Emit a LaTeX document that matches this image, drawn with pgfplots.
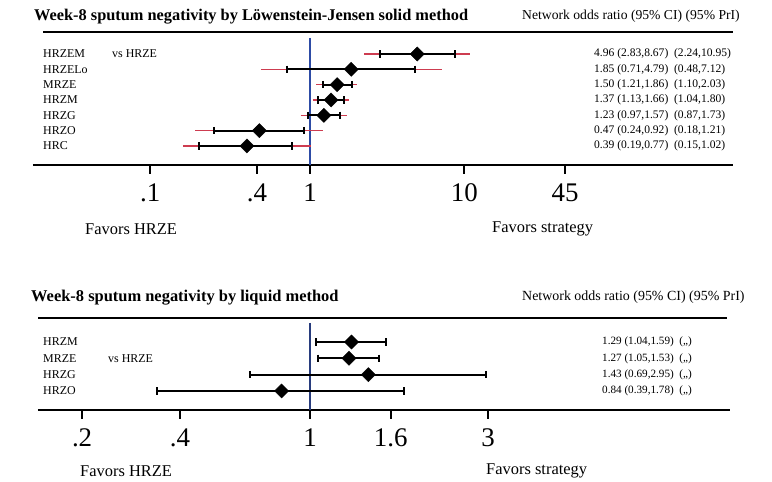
\documentclass[border=0pt]{standalone}
\usepackage{pgfplots}
\pgfplotsset{compat=1.18}
\usepackage{fontspec}
\setmainfont{Liberation Serif}
\definecolor{pri}{RGB}{205,60,80}
\definecolor{refblue}{RGB}{45,75,165}
\definecolor{refnavy}{RGB}{40,60,125}
\begin{document}
\begin{tikzpicture}[x=1bp,y=1bp]
\path[use as bounding box] (0,0) rectangle (772,482);
\coordinate (TopSW) at (33,{482-165});
\coordinate (BotSW) at (38,{482-410});
% ---------------- top panel ----------------
\begin{axis}[
  at={(TopSW)}, anchor=south west,
  scale only axis, width=700bp, height=127bp,
  xmode=log, xmin=0.01602, xmax=551.6,
  ymin=-0.044, ymax=8.24, y dir=reverse,
  axis y line=none, axis x line=bottom,
  axis line style={-, line width=2bp},
  xtick={0.092,0.453,1,10,45}, xticklabels={.1,.4,1,10,45},
  tick align=outside, major tick length=9bp,
  tick style={line width=2bp, black},
  xticklabel style={font=\fontsize{27}{27}\selectfont, yshift=-6bp},
  /pgf/number format/assume math mode=true,
  minor xtick={}, xminorticks=false,
  ytick=\empty, clip=false,
  unbounded coords=jump,
]
\draw[refblue, line width=1.5bp] (axis cs:1,-0.044) -- (axis cs:1,8.24);
\addplot[pri, line width=1.6bp] coordinates {
 (2.24,1) (10.95,1) (1,nan)
 (0.48,2) (7.12,2) (1,nan)
 (1.10,3) (2.03,3) (1,nan)
 (1.04,4) (1.80,4) (1,nan)
 (0.87,5) (1.73,5) (1,nan)
 (0.18,6) (1.21,6) (1,nan)
 (0.15,7) (1.02,7)
};
\addplot[black, line width=2bp, mark=|, mark size=3.8bp, mark options={line width=2bp}] coordinates {
 (2.83,1) (8.67,1) (1,nan)
 (0.71,2) (4.79,2) (1,nan)
 (1.21,3) (1.86,3) (1,nan)
 (1.13,4) (1.66,4) (1,nan)
 (0.97,5) (1.57,5) (1,nan)
 (0.24,6) (0.92,6) (1,nan)
 (0.19,7) (0.77,7)
};
\addplot[only marks, mark=square*, mark size=5bp, mark options={rotate=45, fill=black, draw=black}] coordinates {
 (4.96,1) (1.85,2) (1.50,3) (1.37,4) (1.23,5) (0.47,6) (0.39,7)
};
\end{axis}
\draw[line width=2bp] (43,{482-32}) -- (733,{482-32});
\node[anchor=west, inner sep=0pt, font=\bfseries\fontsize{16.4}{18}\selectfont] at (34,{482-17}) {Week-8 sputum negativity by Löwenstein-Jensen solid method};
\node[anchor=west, inner sep=0pt, font=\fontsize{13.7}{15}\selectfont] at (522,{482-16}) {Network odds ratio (95\% CI) (95\% PrI)};
\begin{scope}[every node/.style={anchor=west, inner sep=0pt, font=\fontsize{12}{13}\selectfont}]
\node at (43,{482-54}) {HRZEM};
\node at (112,{482-54}) {vs HRZE};
\node at (43,{482-69.3}) {HRZELo};
\node at (43,{482-84.7}) {MRZE};
\node at (43,{482-100}) {HRZM};
\node at (43,{482-115.3}) {HRZG};
\node at (43,{482-130.7}) {HRZO};
\node at (43,{482-146}) {HRC};
\end{scope}
\begin{scope}[every node/.style={anchor=west, inner sep=0pt, font=\fontsize{11.6}{13}\selectfont}]
\node at (594,{482-54}) {4.96 (2.83,8.67) \ (2.24,10.95)};
\node at (594,{482-69.3}) {1.85 (0.71,4.79) \ (0.48,7.12)};
\node at (594,{482-84.7}) {1.50 (1.21,1.86) \ (1.10,2.03)};
\node at (594,{482-100}) {1.37 (1.13,1.66) \ (1.04,1.80)};
\node at (594,{482-115.3}) {1.23 (0.97,1.57) \ (0.87,1.73)};
\node at (594,{482-130.7}) {0.47 (0.24,0.92) \ (0.18,1.21)};
\node at (594,{482-146}) {0.39 (0.19,0.77) \ (0.15,1.02)};
\end{scope}
\node[anchor=west, inner sep=0pt, font=\fontsize{16.5}{18}\selectfont] at (85,{482-229}) {Favors HRZE};
\node[anchor=west, inner sep=0pt, font=\fontsize{16.5}{18}\selectfont] at (492,{482-229}) {Favors strategy};
% ---------------- bottom panel ----------------
\begin{axis}[
  at={(BotSW)}, anchor=south west,
  scale only axis, width=692bp, height=87bp,
  xmode=log, xmin=0.1885, xmax=13.15,
  ymin=-0.166, ymax=5.166, y dir=reverse,
  axis y line=none, axis x line=bottom,
  axis line style={-, line width=2bp},
  xtick={0.247,0.45,1,1.64,2.98}, xticklabels={.2,.4,1,1.6,3},
  tick align=outside, major tick length=9bp,
  tick style={line width=2bp, black},
  xticklabel style={font=\fontsize{27}{27}\selectfont, yshift=-6bp},
  /pgf/number format/assume math mode=true,
  minor xtick={}, xminorticks=false,
  ytick=\empty, clip=false,
  unbounded coords=jump,
]
\draw[refnavy, line width=1.5bp] (axis cs:1,-0.166) -- (axis cs:1,5.166);
\addplot[black, line width=2bp, mark=|, mark size=3.8bp, mark options={line width=2bp}] coordinates {
 (1.04,1) (1.59,1) (1,nan)
 (1.05,2) (1.53,2) (1,nan)
 (0.69,3) (2.95,3) (1,nan)
 (0.39,4) (1.78,4)
};
\addplot[only marks, mark=square*, mark size=5bp, mark options={rotate=45, fill=black, draw=black}] coordinates {
 (1.29,1) (1.27,2) (1.43,3) (0.84,4)
};
\end{axis}
\draw[line width=2bp] (38,{482-318}) -- (727,{482-318});
\node[anchor=west, inner sep=0pt, font=\bfseries\fontsize{16.5}{18}\selectfont] at (31,{482-298}) {Week-8 sputum negativity by liquid method};
\node[anchor=west, inner sep=0pt, font=\fontsize{14}{15}\selectfont] at (522,{482-297}) {Network odds ratio (95\% CI) (95\% PrI)};
\begin{scope}[every node/.style={anchor=west, inner sep=0pt, font=\fontsize{12}{13}\selectfont}]
\node at (43,{482-342}) {HRZM};
\node at (43,{482-359}) {MRZE};
\node at (108,{482-359}) {vs HRZE};
\node at (43,{482-375}) {HRZG};
\node at (43,{482-391}) {HRZO};
\end{scope}
\begin{scope}[every node/.style={anchor=west, inner sep=0pt, font=\fontsize{11.2}{13}\selectfont}]
\node at (602,{482-342}) {1.29 (1.04,1.59) \ (,,)};
\node at (602,{482-359}) {1.27 (1.05,1.53) \ (,,)};
\node at (602,{482-375}) {1.43 (0.69,2.95) \ (,,)};
\node at (602,{482-391}) {0.84 (0.39,1.78) \ (,,)};
\end{scope}
\node[anchor=west, inner sep=0pt, font=\fontsize{16.5}{18}\selectfont] at (80,{482-471}) {Favors HRZE};
\node[anchor=west, inner sep=0pt, font=\fontsize{16.5}{18}\selectfont] at (486,{482-471}) {Favors strategy};
\end{tikzpicture}
\end{document}
